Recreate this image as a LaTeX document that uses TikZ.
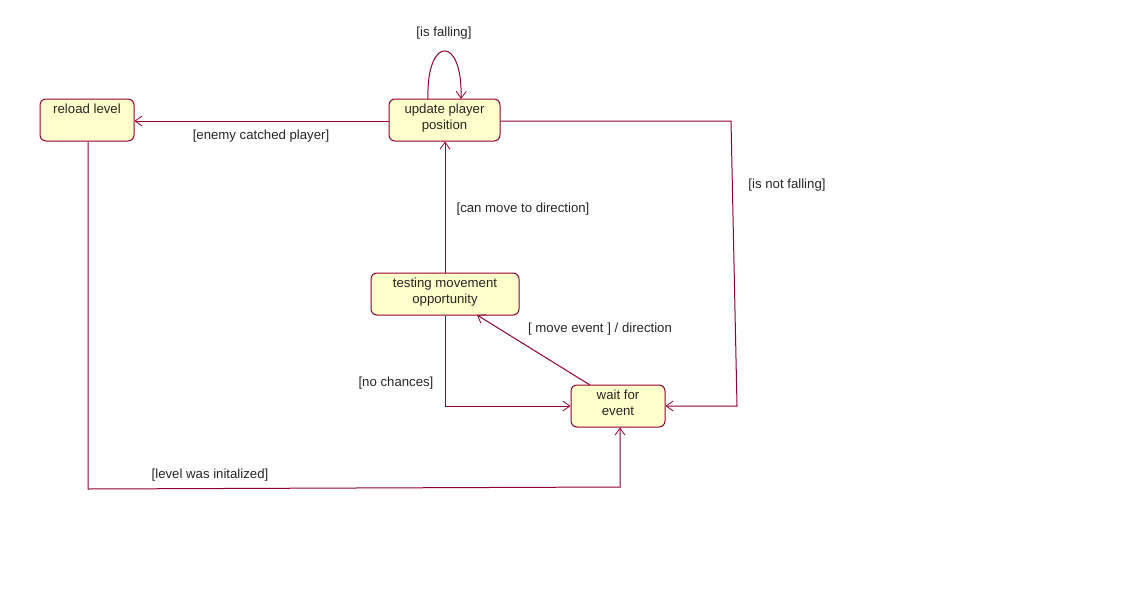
\documentclass[tikz,border=0pt]{standalone}
\usepackage{fontspec}
\setmainfont{Liberation Sans}
\usetikzlibrary{arrows.meta}
\definecolor{edgecol}{RGB}{145,0,50}
\definecolor{statefill}{RGB}{255,255,204}
\begin{document}
\begin{tikzpicture}[x=1pt,y=-1pt,
  statebox/.style={draw=edgecol, fill=statefill, rounded corners=6pt, line width=1pt, inner sep=0pt},
  statetext/.style={anchor=north, yshift=-3pt, align=center, inner sep=2pt,
    font=\fontsize{13.2}{16}\selectfont, text=black!85},
  guard/.style={font=\fontsize{13.2}{15}\selectfont, text=black!85, inner sep=1pt},
  trans/.style={draw=edgecol, line width=1pt, -{Straight Barb[length=7pt,width=10pt,line width=0.8pt]}}]
\useasboundingbox (0,0) rectangle (1124,600);

% states
\node[statebox, minimum width=94pt, minimum height=42pt,
  label={[statetext]north:reload level}] (reload) at (87,120) {};
\node[statebox, minimum width=111pt, minimum height=42pt,
  label={[statetext]north:update player\\position}] (update) at (444.5,120) {};
\node[statebox, minimum width=148pt, minimum height=42pt,
  label={[statetext]north:testing movement\\opportunity}] (testing) at (445,294) {};
\node[statebox, minimum width=94pt, minimum height=42pt,
  label={[statetext]north:wait for\\event}] (wait) at (618,406) {};

% helper points for bends and loop ends
\coordinate (loopA) at (428,99);
\coordinate (loopB) at (461,99);
\coordinate (rbendA) at (731,121);
\coordinate (rbendB) at (737,406);
\coordinate (nochance) at (445,406);
\coordinate (lbendA) at (88,489);
\coordinate (lbendB) at (620,487);
\coordinate (waitTop) at (590,385);
\coordinate (testBR) at (477,315);

% transitions
\draw[trans] (loopA) .. controls (426,35) and (463,35) .. (loopB);
\draw[trans] (update.west |- 0,121) -- (reload.east |- 0,121);
\draw[trans] (update.east |- 0,121) -- (rbendA) -- (rbendB) -- (wait.east |- rbendB);
\draw[trans] (testing.north) -- (update.south -| testing.north);
\draw[trans] (waitTop) -- (testBR);
\draw[trans] (testing.south) -- (nochance) -- (wait.west |- nochance);
\draw[trans] (reload.south -| lbendA) -- (lbendA) -- (lbendB) -- (wait.south -| lbendB);

% guards
\node[guard] (gfall) at (444,33) {[is falling]};
\node[guard] (genemy) at (261,136) {[enemy catched player]};
\node[guard] (gnotfall) at (787,185) {[is not falling]};
\node[guard] (gcan) at (523,209) {[can move to direction]};
\node[guard] (gmove) at (600,329) {[ move event ] / direction};
\node[guard] (gno) at (396,383) {[no chances]};
\node[guard] (glevel) at (210,475) {[level was initalized]};
\end{tikzpicture}
\end{document}
